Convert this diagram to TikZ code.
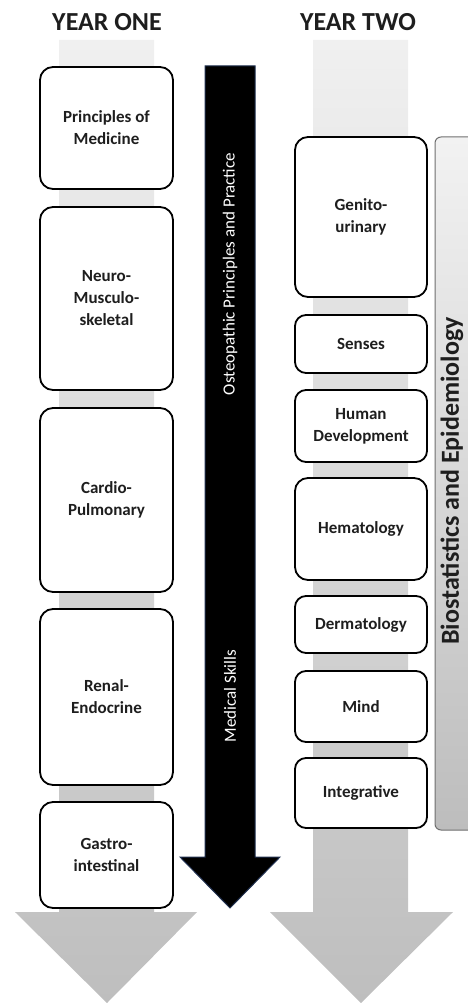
\documentclass[tikz,border=0pt]{standalone}
\usepackage{fontspec}
\setmainfont{Carlito}
\definecolor{txt}{HTML}{1E1E1E}
\definecolor{navy}{HTML}{1F2F4F}
\definecolor{gtop}{HTML}{F0F0F0}
\definecolor{gbot}{HTML}{BEBEBE}
\definecolor{bartop}{HTML}{F2F2F2}
\definecolor{barbot}{HTML}{BDBDBD}
\definecolor{barline}{HTML}{6F6F6F}
\begin{document}
\begin{tikzpicture}[x=1pt,y=-1pt,
  box/.style={draw=black, fill=white, line width=1.8pt, rounded corners=13pt,
    align=center, text=txt, font=\bfseries\fontsize{17}{22}\selectfont, inner sep=0pt},
  lbox/.style={box, minimum width=133pt},
  rbox/.style={box, minimum width=132pt},
  title/.style={font=\bfseries\fontsize{26}{30}\selectfont, text=txt},
  grayarrow/.style={top color=gtop, bottom color=gbot, draw=none},
  arrowlabel/.style={rotate=90, text=white, font=\fontsize{17}{20}\selectfont}
]
\useasboundingbox (0,0) rectangle (467,1003);
% gray arrows
\path[grayarrow] (59,40) -- (154,40) -- (154,912) -- (197,912) -- (107,1003) -- (15,912) -- (59,912) -- cycle;
\path[grayarrow] (313,40) -- (408,40) -- (408,912) -- (453,912) -- (361,1003) -- (270,912) -- (313,912) -- cycle;
% titles
\node[title] (y1) at (107,22) {YEAR ONE};
\node[title] (y2) at (358,22) {YEAR TWO};
% black arrow
\draw[fill=black, draw=navy, line width=1pt, line join=miter] (205,66) -- (255,66) -- (255,857) -- (280,857) -- (230,908) -- (180,857) -- (205,857) -- cycle;
\node[arrowlabel] (opp) at (230,274) {Osteopathic Principles and Practice};
\node[arrowlabel] (ms) at (230,696) {Medical Skills};
% biostatistics bar
\draw[top color=bartop, bottom color=barbot, draw=barline, line width=1pt, rounded corners=6pt] (435,137) rectangle (480,830);
\node[rotate=90, text=txt, font=\bfseries\fontsize{26}{30}\selectfont] (bio) at (452,481) {Biostatistics and Epidemiology};
% year one boxes
\node[lbox, minimum height=122pt] (pm) at (106.5,128) {Principles of\\Medicine};
\node[lbox, minimum height=183pt] (nms) at (106.5,298.5) {Neuro-\\Musculo-\\skeletal};
\node[lbox, minimum height=184pt] (cp) at (106.5,500) {Cardio-\\Pulmonary};
\node[lbox, minimum height=176pt] (re) at (106.5,697) {Renal-\\Endocrine};
\node[lbox, minimum height=106pt] (gi) at (106.5,855) {Gastro-\\intestinal};
% year two boxes
\node[rbox, minimum height=160pt] (gu) at (361,217) {Genito-\\urinary};
\node[rbox, minimum height=58pt, rounded corners=11pt] (se) at (361,344) {Senses};
\node[rbox, minimum height=72pt, rounded corners=11pt] (hd) at (361,426) {Human\\Development};
\node[rbox, minimum height=102pt] (he) at (361,529) {Hematology};
\node[rbox, minimum height=57pt, rounded corners=11pt] (de) at (361,624.5) {Dermatology};
\node[rbox, minimum height=71pt, rounded corners=11pt] (mi) at (361,706.5) {Mind};
\node[rbox, minimum height=70pt, rounded corners=11pt] (ig) at (361,793) {Integrative};
\end{tikzpicture}
\end{document}
